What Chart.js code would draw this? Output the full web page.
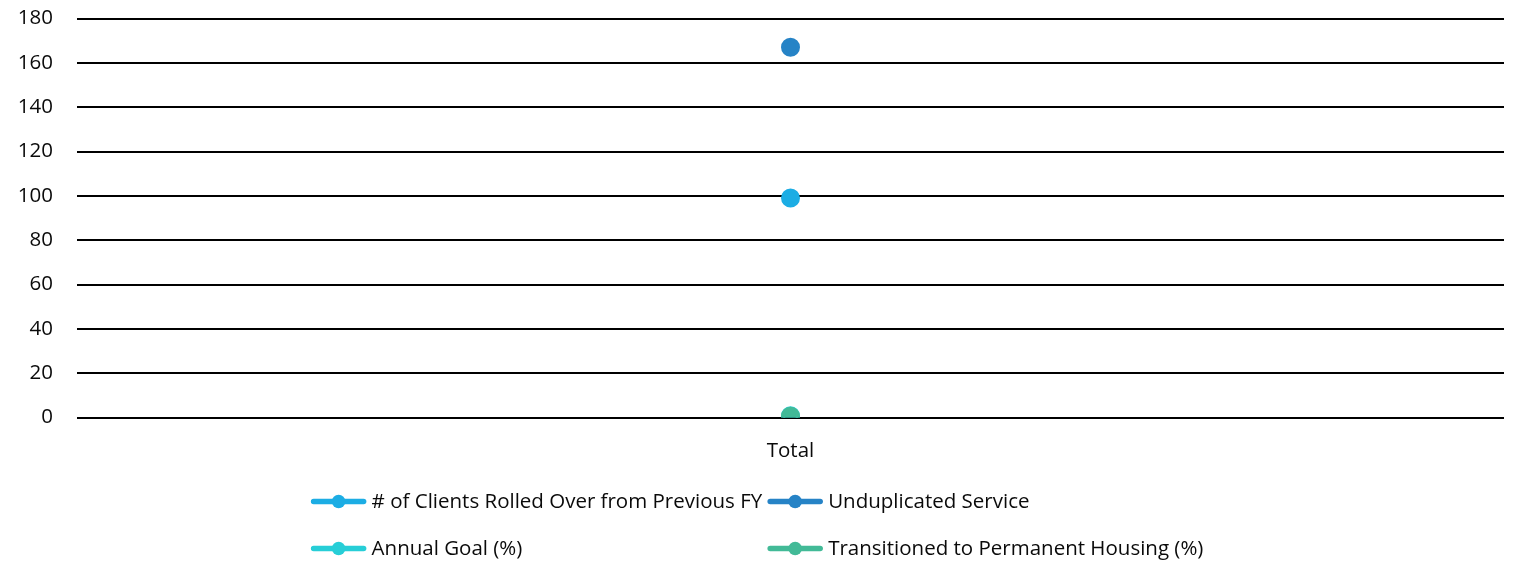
<!DOCTYPE html>
<html>
<head>
<meta charset="utf-8">
<script src="https://cdn.jsdelivr.net/npm/chart.js@4.4.1/dist/chart.umd.min.js"></script>
<style>
  html, body { margin: 0; padding: 0; background: #ffffff; }
  #wrap { width: 1519px; height: 562px; position: relative; }
</style>
</head>
<body>
<div id="wrap"><canvas id="chart"></canvas></div>
<script>
// Program summary for the single reporting category
const categories = ['Total'];
const rolledOver = [99];
const unduplicated = [167];
const annualGoal = [0.8];
const transitioned = [0.6];
const yTicks = [0, 20, 40, 60, 80, 100, 120, 140, 160, 180];

const seriesNames = [
  '# of Clients Rolled Over from Previous FY',
  'Unduplicated Service',
  'Annual Goal (%)',
  'Transitioned to Permanent Housing (%)'
];
const seriesValues = [rolledOver, unduplicated, annualGoal, transitioned];
const seriesColors = ['#1CADE4', '#2683C6', '#27CED7', '#42BA97'];

const FONT = '"Open Sans", "DejaVu Sans", sans-serif';
const FONT_SIZE = 20.5;
const TEXT_COLOR = '#0a0a0a';

// Two-column legend drawn beneath the axis
const gridLegend = {
  id: 'gridLegend',
  afterDraw(chart) {
    const ctx = chart.ctx;
    const sets = chart.data.datasets;
    const symW = 56, gap = 5, colGap = 5;
    ctx.save();
    ctx.font = FONT_SIZE + 'px ' + FONT;
    const cols = 2;
    const colWidths = [0, 0];
    sets.forEach((ds, i) => {
      const w = symW + gap + ctx.measureText(ds.label).width + colGap;
      colWidths[i % cols] = Math.max(colWidths[i % cols], w);
    });
    const total = colWidths[0] + colWidths[1];
    const startX = (chart.width - total) / 2;
    const rowY = [chart.chartArea.bottom + 84, chart.chartArea.bottom + 131];
    sets.forEach((ds, i) => {
      const col = i % cols, row = Math.floor(i / cols);
      const x = startX + (col === 0 ? 0 : colWidths[0]);
      const y = rowY[row];
      ctx.strokeStyle = ds.borderColor;
      ctx.lineWidth = 5.5;
      ctx.lineCap = 'round';
      ctx.beginPath();
      ctx.moveTo(x + 3, y);
      ctx.lineTo(x + symW - 3, y);
      ctx.stroke();
      ctx.fillStyle = ds.pointBackgroundColor;
      ctx.beginPath();
      ctx.arc(x + symW / 2, y, 6.8, 0, Math.PI * 2);
      ctx.fill();
      ctx.fillStyle = TEXT_COLOR;
      ctx.textBaseline = 'middle';
      ctx.textAlign = 'left';
      ctx.fillText(ds.label, x + symW + gap, y + 1);
    });
    ctx.restore();
  }
};

const chart = new Chart(document.getElementById('chart'), {
  type: 'line',
  data: {
    labels: categories,
    datasets: seriesNames.map((name, i) => ({
      label: name,
      data: seriesValues[i],
      borderColor: seriesColors[i],
      backgroundColor: seriesColors[i],
      pointBackgroundColor: seriesColors[i],
      pointBorderColor: seriesColors[i],
      pointRadius: 7.5,
      pointHoverRadius: 7.5,
      borderWidth: 4,
      showLine: false,
      // later series are painted over earlier ones
      order: seriesNames.length - i
    }))
  },
  options: {
    responsive: true,
    maintainAspectRatio: false,
    animation: false,
    layout: { padding: { left: 0, right: 15, top: 18.5, bottom: 0 } },
    plugins: {
      legend: { display: false },
      tooltip: { enabled: false }
    },
    scales: {
      x: {
        offset: true,
        grid: { display: false, drawTicks: false },
        border: { display: false },
        ticks: { color: TEXT_COLOR, font: { family: FONT, size: FONT_SIZE }, padding: 21 },
        afterFit(scale) { scale.height = 144.5; }
      },
      y: {
        min: 0,
        max: 180,
        afterBuildTicks(scale) { scale.ticks = yTicks.map(v => ({ value: v })); },
        grid: { color: '#000000', lineWidth: 2, drawTicks: false },
        border: { display: false },
        ticks: { color: TEXT_COLOR, font: { family: FONT, size: FONT_SIZE }, padding: 24 },
        afterFit(scale) {
          scale.width = 77;
          scale.paddingTop = 12;
          scale.paddingBottom = 12;
        }
      }
    }
  },
  plugins: [gridLegend]
});
</script>
</body>
</html>
